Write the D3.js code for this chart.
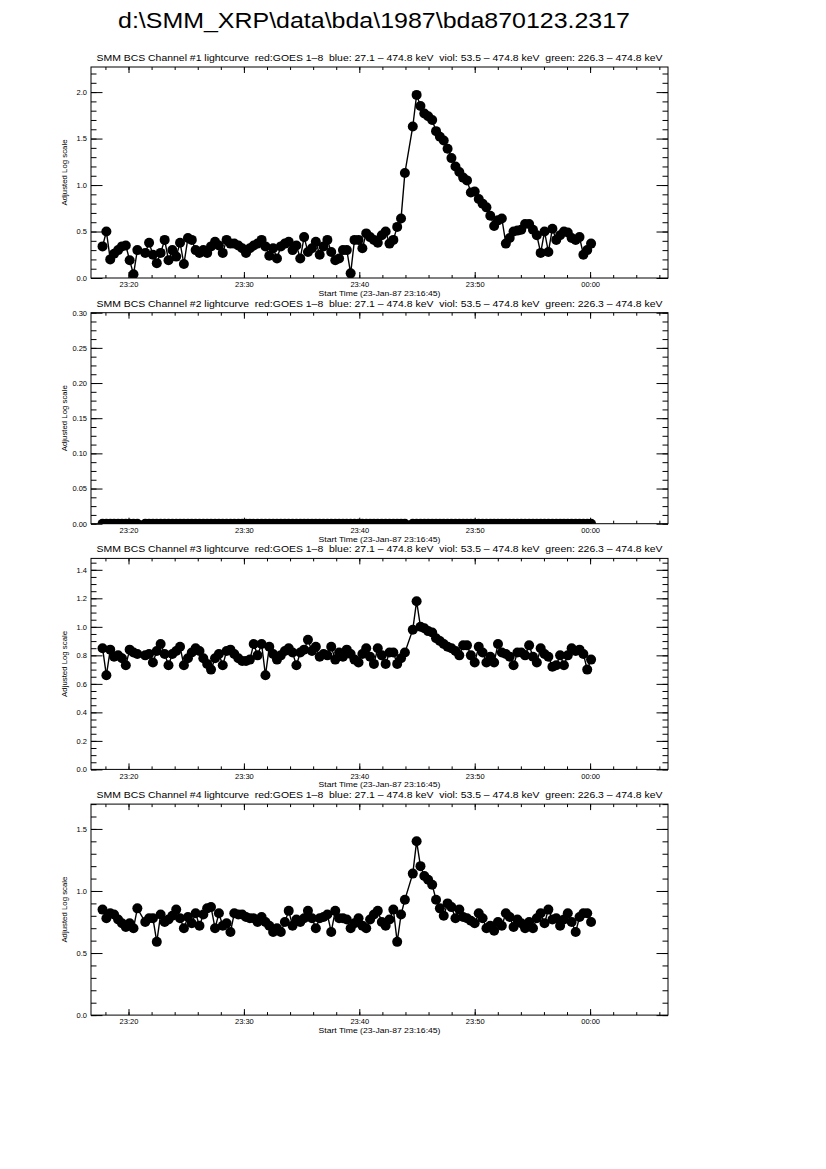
<!DOCTYPE html>
<html lang="en">
<head>
<meta charset="UTF-8">
<title>bda870123.2317 lightcurves</title>
<script src="https://d3js.org/d3.v7.min.js"></script>
<style>
  body{margin:0;background:#fff;}
  svg{font-family:"Liberation Sans",Arial,sans-serif;}
  .axis line{stroke:#000;stroke-width:1;}
  .axis path{display:none;}
  .axis text{font-size:7.5px;fill:#000;font-family:"Liberation Sans",Arial,sans-serif;}
  .frame{fill:none;stroke:#000;stroke-width:1;}
</style>
</head>
<body>
<svg id="chart"></svg>
<script>
// ---- data (seconds after 23:16:45, adjusted log values) ----
const fileTitle = 'd:\\SMM_XRP\\data\\bda\\1987\\bda870123.2317';
const channelNames = ['SMM BCS Channel #1 lightcurve', 'SMM BCS Channel #2 lightcurve',
                      'SMM BCS Channel #3 lightcurve', 'SMM BCS Channel #4 lightcurve'];
const bandText = 'red:GOES 1\u20138  blue: 27.1 \u2013 474.8 keV  viol: 53.5 \u2013 474.8 keV  green: 226.3 \u2013 474.8 keV';
const xTitle = 'Start Time (23-Jan-87 23:16:45)';
const yTitle = 'Adjusted Log scale';

const times = [60,80,100,120,141,161,181,201,221,241,282,302,322,342,362,383,403,423,443,463,
  483,504,524,544,564,584,604,624,645,665,685,705,725,745,766,786,806,826,846,866,
  887,907,927,947,967,987,1008,1028,1048,1068,1088,1108,1128,1149,1169,1189,1209,1229,1249,1270,
  1290,1310,1330,1350,1370,1391,1411,1431,1451,1471,1491,1512,1532,1552,1572,1592,1612,1632,1673,1693,
  1713,1733,1753,1774,1794,1814,1834,1854,1874,1895,1915,1935,1955,1975,1995,2016,2036,2056,2076,2096,
  2116,2136,2157,2177,2197,2217,2237,2257,2278,2298,2318,2338,2358,2378,2399,2419,2439,2459,2479,2499,
  2520,2540,2560,2580,2600];

const ch1 = [0.34,0.50,0.20,0.26,0.30,0.34,0.35,0.19,0.04,0.30,0.27,0.38,0.25,0.16,0.27,0.41,0.19,0.30,0.23,0.38,
  0.15,0.43,0.41,0.30,0.27,0.30,0.27,0.34,0.39,0.35,0.27,0.41,0.37,0.37,0.35,0.32,0.27,0.32,0.35,0.37,
  0.41,0.34,0.24,0.32,0.21,0.34,0.37,0.39,0.30,0.35,0.21,0.44,0.28,0.32,0.39,0.25,0.34,0.41,0.28,0.19,
  0.21,0.30,0.30,0.05,0.41,0.41,0.32,0.48,0.44,0.41,0.38,0.46,0.50,0.37,0.41,0.55,0.64,1.13,1.63,1.97,
  1.85,1.77,1.74,1.70,1.58,1.52,1.48,1.39,1.29,1.20,1.14,1.08,1.05,0.92,0.93,0.85,0.80,0.76,0.67,0.56,
  0.62,0.64,0.37,0.43,0.50,0.51,0.52,0.58,0.58,0.52,0.46,0.27,0.50,0.28,0.53,0.41,0.46,0.50,0.49,0.43,
  0.41,0.44,0.25,0.30,0.37];

const ch2 = [0,0,0,0,0,0,0,0,0,0,0,0,0,0,0,0,0,0,0,0,
  0,0,0,0,0,0,0,0,0,0,0,0,0,0,0,0,0,0,0,0,
  0,0,0,0,0,0,0,0,0,0,0,0,0,0,0,0,0,0,0,0,
  0,0,0,0,0,0,0,0,0,0,0,0,0,0,0,0,0,0,0,0,
  0,0,0,0,0,0,0,0,0,0,0,0,0,0,0,0,0,0,0,0,
  0,0,0,0,0,0,0,0,0,0,0,0,0,0,0,0,0,0,0,0,
  0,0,0,0,0];

const ch3 = [0.85,0.66,0.84,0.79,0.80,0.78,0.73,0.84,0.82,0.81,0.80,0.81,0.75,0.83,0.88,0.81,0.73,0.81,0.83,0.86,
  0.73,0.78,0.82,0.85,0.83,0.78,0.74,0.70,0.78,0.81,0.73,0.83,0.84,0.81,0.78,0.76,0.76,0.77,0.88,0.80,
  0.88,0.66,0.86,0.81,0.77,0.80,0.83,0.85,0.82,0.73,0.82,0.84,0.91,0.83,0.86,0.79,0.81,0.80,0.86,0.77,
  0.82,0.79,0.84,0.81,0.77,0.75,0.81,0.85,0.79,0.74,0.85,0.80,0.74,0.82,0.82,0.74,0.78,0.82,0.98,1.18,
  1.00,0.99,0.97,0.96,0.92,0.90,0.88,0.86,0.85,0.83,0.80,0.87,0.87,0.80,0.75,0.86,0.82,0.75,0.79,0.75,
  0.88,0.82,0.81,0.79,0.73,0.82,0.82,0.80,0.87,0.79,0.75,0.85,0.81,0.79,0.72,0.73,0.80,0.73,0.80,0.85,
  0.83,0.84,0.81,0.70,0.77];

const ch4 = [0.85,0.78,0.82,0.81,0.77,0.74,0.71,0.74,0.70,0.86,0.75,0.78,0.78,0.59,0.81,0.75,0.77,0.80,0.85,0.78,
  0.70,0.79,0.74,0.82,0.72,0.81,0.86,0.87,0.70,0.82,0.72,0.74,0.67,0.82,0.81,0.81,0.79,0.78,0.78,0.75,
  0.79,0.75,0.72,0.67,0.70,0.67,0.75,0.84,0.72,0.77,0.75,0.78,0.84,0.78,0.70,0.78,0.79,0.81,0.67,0.84,
  0.78,0.78,0.77,0.70,0.74,0.78,0.72,0.70,0.77,0.81,0.84,0.75,0.72,0.77,0.85,0.59,0.81,0.93,1.14,1.40,
  1.20,1.12,1.09,1.05,0.93,0.86,0.80,0.90,0.87,0.78,0.85,0.79,0.78,0.76,0.74,0.82,0.78,0.70,0.72,0.68,
  0.75,0.72,0.82,0.79,0.71,0.77,0.74,0.70,0.75,0.70,0.78,0.82,0.74,0.85,0.77,0.78,0.72,0.77,0.82,0.75,
  0.67,0.79,0.82,0.82,0.75];

const channels = [ch1, ch2, ch3, ch4];
const yTop = [2.27, 0.30, 1.48, 1.70];
const yMajorStep = [0.5, 0.05, 0.2, 0.5];
const yMinorStep = [0.1, 0.0125, 0.05, 0.1];
const yFormat = ['.1f', '.2f', '.1f', '.1f'];

const xDomain = [0, 3000];
const xMajor = [195, 795, 1395, 1995, 2595];
const xMajorLabels = ['23:20', '23:30', '23:40', '23:50', '00:00'];
const xMinorStep = 120;

// ---- layout ----
const W = 826, H = 1169;
const left = 91, plotW = 577, plotH = 211;
const firstTop = 67, panelGap = 245.7;

const svg = d3.select('#chart').attr('width', W).attr('height', H);
svg.append('rect').attr('width', W).attr('height', H).attr('fill', '#fff');

svg.append('text')
  .attr('x', 374).attr('y', 28)
  .attr('text-anchor', 'middle')
  .attr('font-size', 22)
  .attr('textLength', 512).attr('lengthAdjust', 'spacingAndGlyphs')
  .text(fileTitle);

const x = d3.scaleLinear().domain(xDomain).range([0, plotW]);
const xMinor = d3.range(75, xDomain[1], xMinorStep);

channels.forEach((vals, i) => {
  const top = firstTop + i * panelGap;
  const g = svg.append('g').attr('transform', `translate(${left},${top})`);
  const y = d3.scaleLinear().domain([0, yTop[i]]).range([plotH, 0]);
  const yMaj = d3.range(0, yTop[i] + 1e-6, yMajorStep[i]);
  const yMin = d3.range(0, yTop[i] + 1e-6, yMinorStep[i]);

  // panel title
  g.append('text')
    .attr('x', plotW / 2).attr('y', -6)
    .attr('text-anchor', 'middle')
    .attr('font-size', 9.3)
    .attr('textLength', 566).attr('lengthAdjust', 'spacingAndGlyphs')
    .style('white-space', 'pre')
    .text(channelNames[i] + '  ' + bandText);

  // clip
  g.append('clipPath').attr('id', 'clip' + i)
    .append('rect').attr('width', plotW).attr('height', plotH);

  // axes: minor ticks
  g.append('g').attr('class', 'axis')
    .call(d3.axisLeft(y).tickValues(yMin).tickSize(-5.5).tickFormat(''));
  g.append('g').attr('class', 'axis').attr('transform', `translate(${plotW},0)`)
    .call(d3.axisRight(y).tickValues(yMin).tickSize(-5.5).tickFormat(''));
  g.append('g').attr('class', 'axis')
    .call(d3.axisTop(x).tickValues(xMinor).tickSize(-3).tickFormat(''));
  g.append('g').attr('class', 'axis').attr('transform', `translate(0,${plotH})`)
    .call(d3.axisBottom(x).tickValues(xMinor).tickSize(-3).tickFormat(''));

  // axes: major ticks + labels
  g.append('g').attr('class', 'axis')
    .call(d3.axisLeft(y).tickValues(yMaj).tickSize(-11.5).tickPadding(4)
      .tickFormat(d3.format(yFormat[i])));
  g.append('g').attr('class', 'axis').attr('transform', `translate(${plotW},0)`)
    .call(d3.axisRight(y).tickValues(yMaj).tickSize(-11.5).tickFormat(''));
  g.append('g').attr('class', 'axis')
    .call(d3.axisTop(x).tickValues(xMajor).tickSize(-6).tickFormat(''));
  g.append('g').attr('class', 'axis').attr('transform', `translate(0,${plotH})`)
    .call(d3.axisBottom(x).tickValues(xMajor).tickSize(-6).tickPadding(4)
      .tickFormat((d, k) => xMajorLabels[k]));

  g.append('rect').attr('class', 'frame').attr('width', plotW).attr('height', plotH);

  // axis titles
  g.append('text')
    .attr('x', plotW / 2).attr('y', plotH + 18)
    .attr('text-anchor', 'middle').attr('font-size', 7.5)
    .attr('textLength', 122).attr('lengthAdjust', 'spacingAndGlyphs')
    .text(xTitle);
  g.append('text')
    .attr('transform', `translate(-24,${plotH / 2}) rotate(-90)`)
    .attr('text-anchor', 'middle').attr('font-size', 7.5)
    .attr('textLength', 66).attr('lengthAdjust', 'spacingAndGlyphs')
    .text(yTitle);

  // data
  const pts = times.map((t, k) => [t, vals[k]]);
  const plot = g.append('g').attr('clip-path', `url(#clip${i})`);
  plot.append('path')
    .datum(pts)
    .attr('fill', 'none').attr('stroke', '#000').attr('stroke-width', 1.4)
    .attr('d', d3.line().x(d => x(d[0])).y(d => y(d[1])));
  plot.selectAll('circle')
    .data(pts).enter()
    .append('circle')
    .attr('cx', d => x(d[0]))
    .attr('cy', d => y(d[1]))
    .attr('r', 5)
    .attr('fill', '#000');
});
</script>
</body>
</html>
